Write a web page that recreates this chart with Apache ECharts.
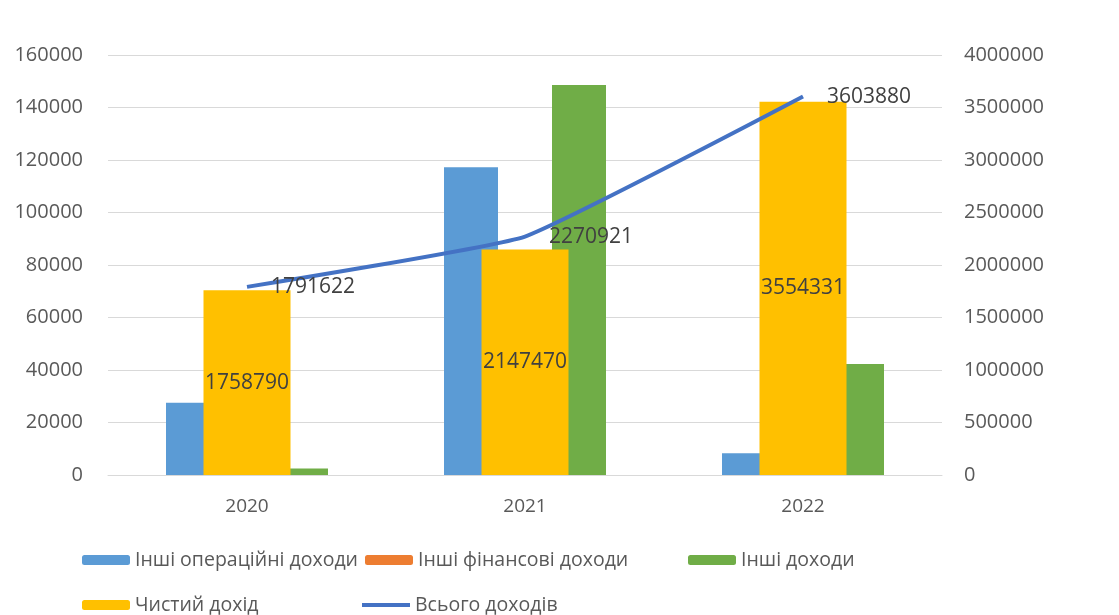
<!DOCTYPE html>
<html>
<head>
<meta charset="utf-8">
<script src="https://cdn.jsdelivr.net/npm/echarts@6/dist/echarts.min.js"></script>
<style>
  html, body { margin: 0; padding: 0; background: #fff; }
  #chart { width: 1119px; height: 615px; }
</style>
</head>
<body>
<div id="chart"></div>
<script>
// дані
const years = ['2020', '2021', '2022']
const otherOperating = [27500, 117200, 8300]
const otherFinancial = [0, 0, 0]
const otherIncome = [2500, 148600, 42300]
const netIncome = [1758790, 2147470, 3554331]
const totalIncome = [1791622, 2270921, 3603880]

const leftTicks = { min: 0, max: 160000, interval: 20000 }
const rightTicks = { min: 0, max: 4000000, interval: 500000 }

const FONT = '"Open Sans", "Noto Sans", sans-serif'
const TXT = '#595959'
const LBL = '#404040'

let chart = echarts.init(document.getElementById('chart'), null, { renderer: 'canvas' })

function legendAt(name, left, top, icon, h) {
  return {
    data: [icon ? { name: name, icon: icon } : name],
    left: left,
    top: top,
    padding: 0,
    itemWidth: 48,
    itemHeight: h || 10,
    itemGap: 6,
    selectedMode: false,
    textStyle: { color: TXT, fontSize: 19.5, fontFamily: FONT }
  }
}

function getOption() {
  return {
    backgroundColor: '#ffffff',
    animation: false,
    textStyle: { fontFamily: FONT },
    grid: { left: 108, right: 177, top: 55, bottom: 140 },
    legend: [
      legendAt('Інші операційні доходи', 82, 550),
      legendAt('Інші фінансові доходи', 365, 550),
      legendAt('Інші доходи', 688, 550),
      legendAt('Чистий дохід', 82, 595),
      legendAt('Всього доходів', 362, 595, 'rect', 4)
    ],
    xAxis: [
      {
        type: 'category',
        data: years,
        axisLine: { show: true, lineStyle: { color: '#d9d9d9', width: 1 } },
        axisTick: { show: false },
        axisLabel: { color: TXT, fontSize: 19, margin: 22, fontFamily: FONT }
      },
      {
        type: 'category',
        data: years,
        show: false
      }
    ],
    yAxis: [
      {
        type: 'value',
        min: leftTicks.min,
        max: leftTicks.max,
        interval: leftTicks.interval,
        axisLine: { show: false },
        axisTick: { show: false },
        splitLine: { lineStyle: { color: '#d9d9d9', width: 1 } },
        axisLabel: { color: TXT, fontSize: 20, margin: 25, fontFamily: FONT, formatter: v => String(v) }
      },
      {
        type: 'value',
        position: 'right',
        min: rightTicks.min,
        max: rightTicks.max,
        interval: rightTicks.interval,
        axisLine: { show: false },
        axisTick: { show: false },
        splitLine: { show: false },
        axisLabel: { color: TXT, fontSize: 20, margin: 22, fontFamily: FONT, formatter: v => String(v) }
      }
    ],
    series: [
      {
        name: 'Інші операційні доходи',
        type: 'bar',
        xAxisIndex: 0, yAxisIndex: 0,
        data: otherOperating,
        barWidth: 54, barGap: '0%',
        itemStyle: { color: '#5b9bd5' },
        z: 2
      },
      {
        name: 'Інші фінансові доходи',
        type: 'bar',
        xAxisIndex: 0, yAxisIndex: 0,
        data: otherFinancial,
        barWidth: 54, barGap: '0%',
        itemStyle: { color: '#ed7d31' },
        z: 2
      },
      {
        name: 'Інші доходи',
        type: 'bar',
        xAxisIndex: 0, yAxisIndex: 0,
        data: otherIncome,
        barWidth: 54, barGap: '0%',
        itemStyle: { color: '#70ad47' },
        z: 2
      },
      {
        name: 'Чистий дохід',
        type: 'bar',
        xAxisIndex: 1, yAxisIndex: 1,
        data: netIncome,
        barWidth: 87,
        itemStyle: { color: '#ffc000' },
        label: {
          show: true, position: 'inside',
          color: LBL, fontSize: 21, fontFamily: FONT,
          formatter: p => String(p.value)
        },
        z: 3
      },
      {
        name: 'Всього доходів',
        type: 'line',
        xAxisIndex: 0, yAxisIndex: 1,
        data: totalIncome,
        smooth: 0.12,
        symbol: 'circle',
        symbolSize: 0.1,
        showSymbol: true,
        lineStyle: { color: '#4472c4', width: 4 },
        itemStyle: { color: '#4472c4' },
        label: {
          show: true, position: 'right', distance: 24,
          color: LBL, fontSize: 21, fontFamily: FONT,
          formatter: p => String(p.value)
        },
        z: 5
      }
    ]
  }
}

chart.setOption(getOption())
</script>
</body>
</html>
